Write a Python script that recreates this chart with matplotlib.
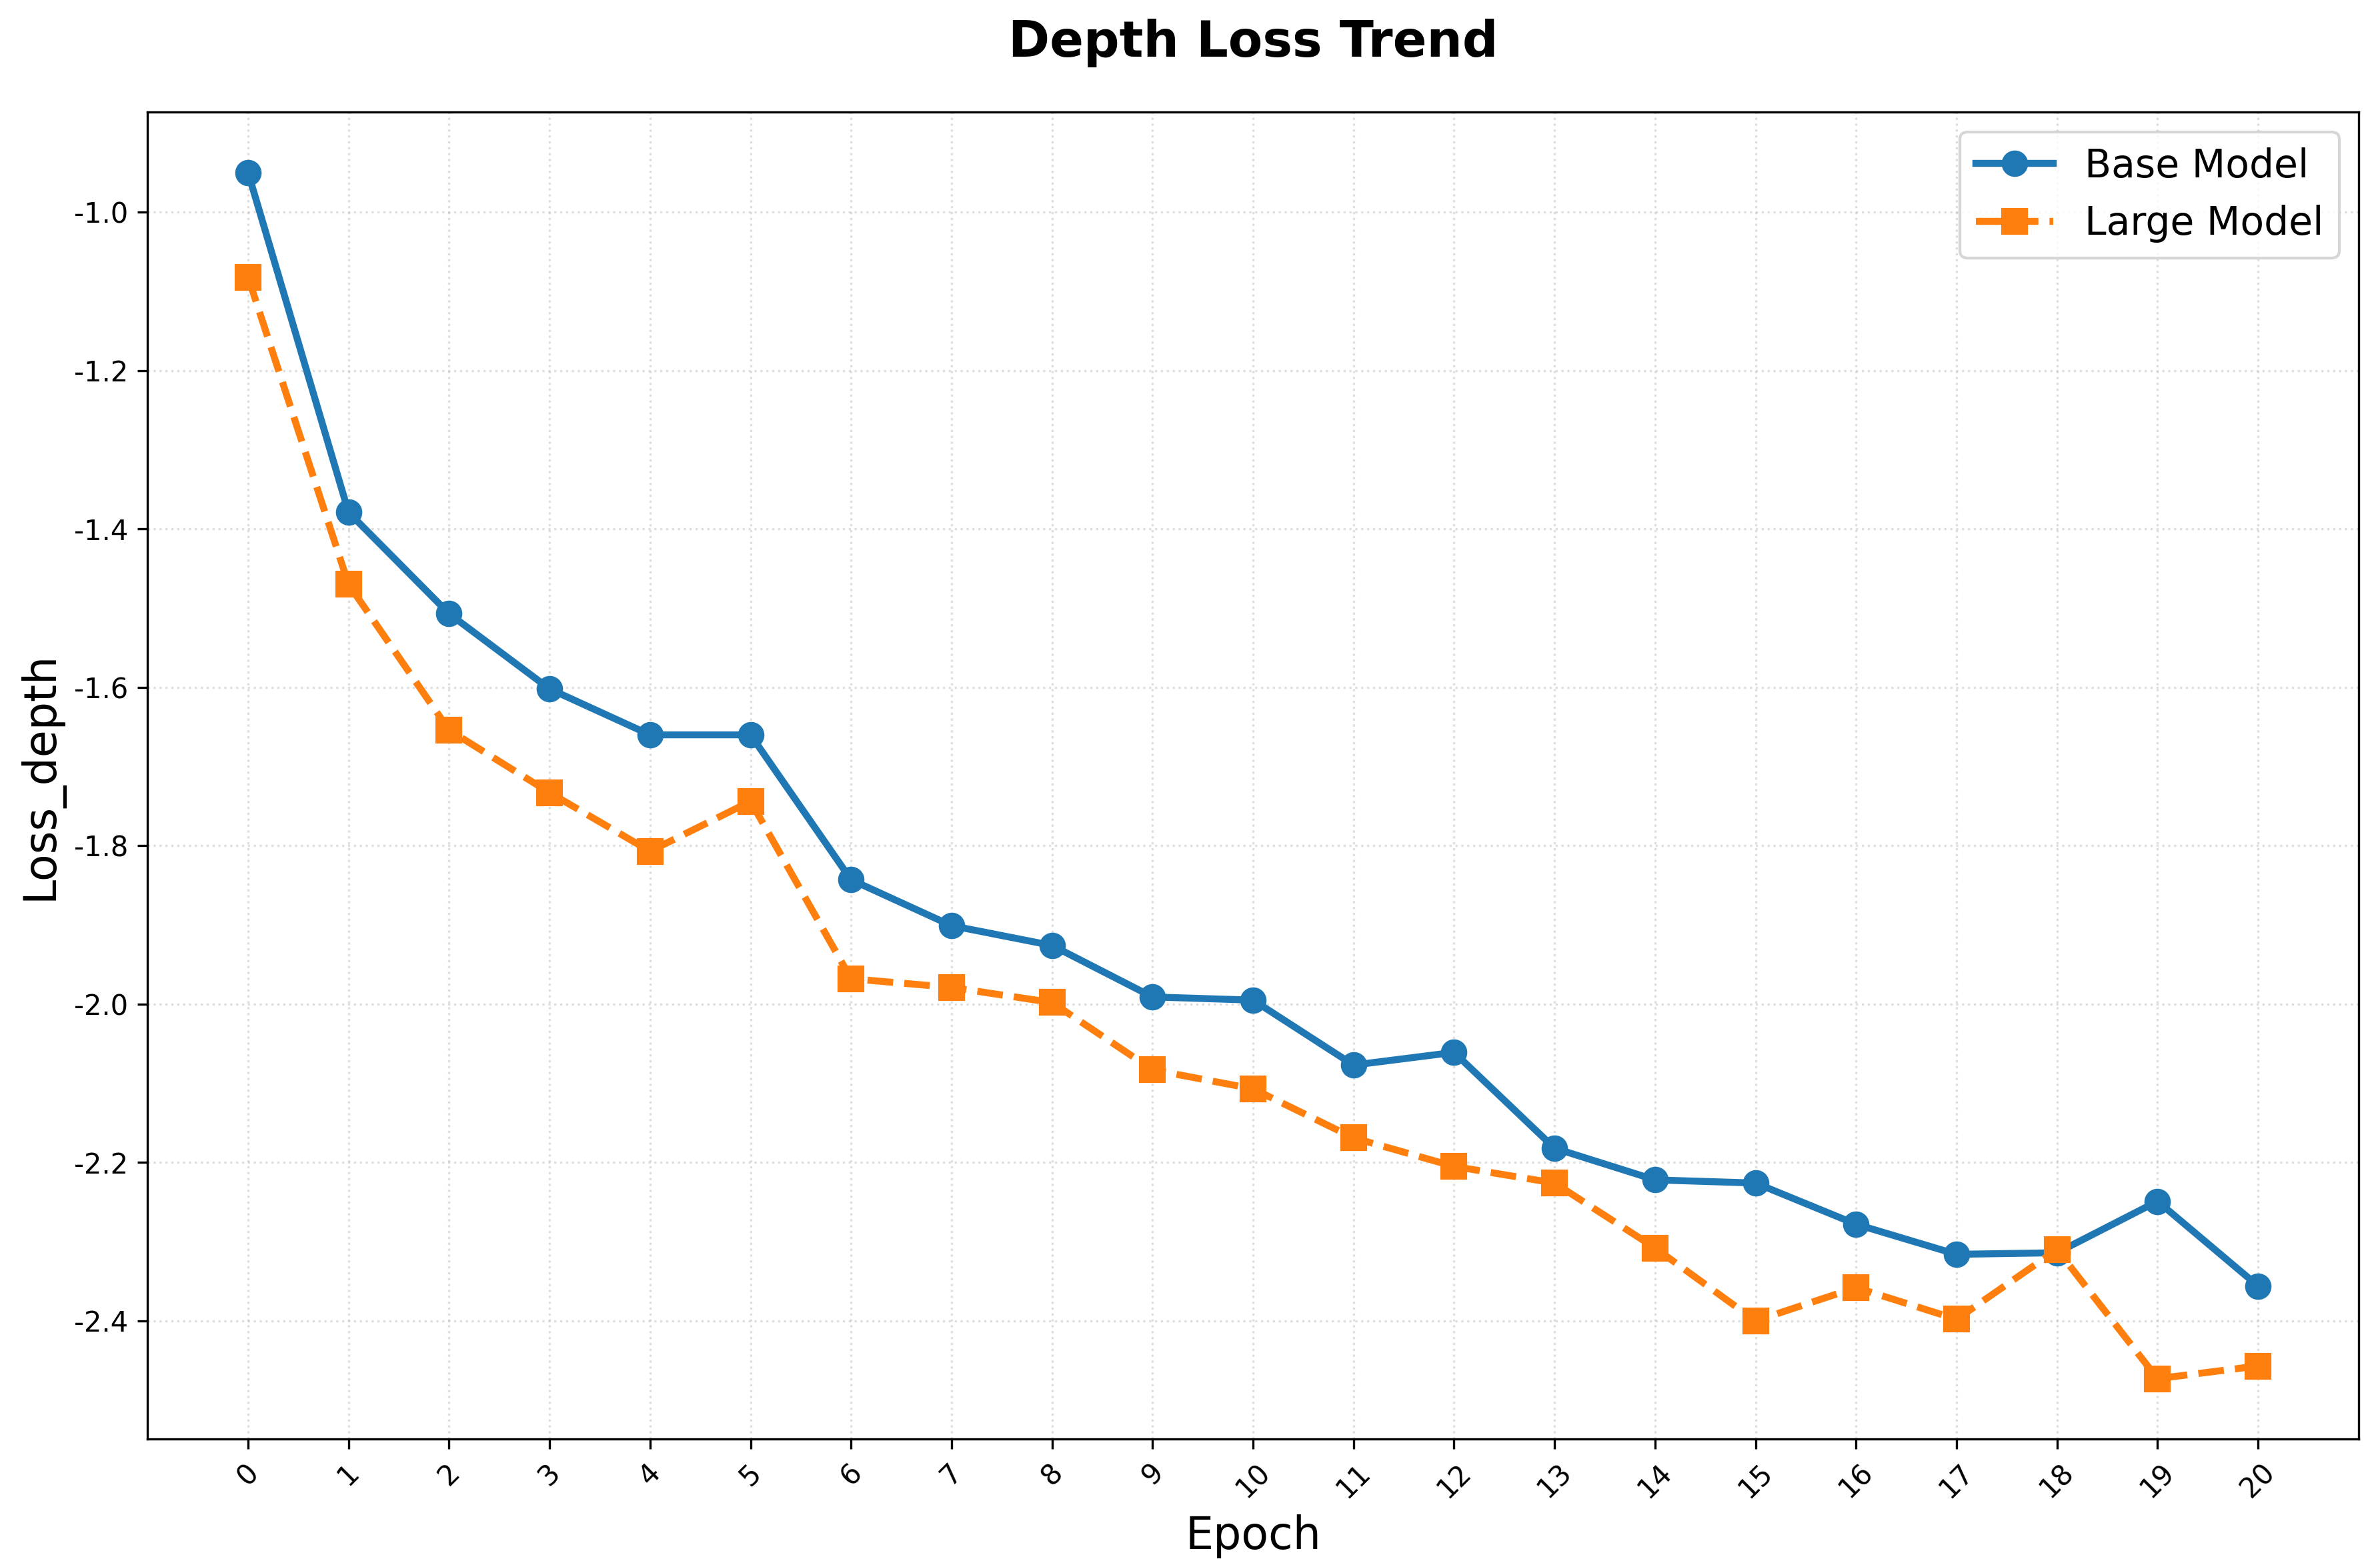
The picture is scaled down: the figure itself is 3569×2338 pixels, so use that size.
import matplotlib
matplotlib.use('Agg')
import matplotlib.pyplot as plt

plt.rcParams['axes.unicode_minus'] = False

# Epochs and depth loss values
epochs = list(range(21))
base_loss = [-0.950, -1.379, -1.507, -1.602, -1.660, -1.660, -1.843, -1.901, -1.926, -1.991, -1.995,
             -2.077, -2.061, -2.182, -2.222, -2.226, -2.278, -2.316, -2.314, -2.249, -2.356]
large_loss = [-1.082, -1.470, -1.654, -1.733, -1.807, -1.744, -1.968, -1.979, -1.998, -2.083, -2.107,
              -2.169, -2.205, -2.226, -2.308, -2.400, -2.358, -2.398, -2.310, -2.473, -2.457]

fig, ax = plt.subplots(figsize=(3569 / 300, 2338 / 300))

ax.plot(epochs, base_loss, marker='o', linestyle='-', linewidth=2.5, markersize=8.5,
        color='#1f77b4', label='Base Model')
ax.plot(epochs, large_loss, marker='s', linestyle='--', linewidth=2.5, markersize=8.5,
        color='#ff7f0e', label='Large Model')

ax.set_title('Depth Loss Trend', fontsize=18, fontweight='bold', pad=20)
ax.set_xlabel('Epoch', fontsize=16)
ax.set_ylabel('Loss_depth', fontsize=16)
ax.set_xticks(epochs)
ax.tick_params(axis='x', rotation=45)
ax.grid(True, linestyle=':', alpha=0.4)
ax.legend(loc='upper right', fontsize=14)

fig.subplots_adjust(left=0.062, right=0.991, top=0.928, bottom=0.077)
plt.savefig('out.png', dpi=300)
plt.close()
